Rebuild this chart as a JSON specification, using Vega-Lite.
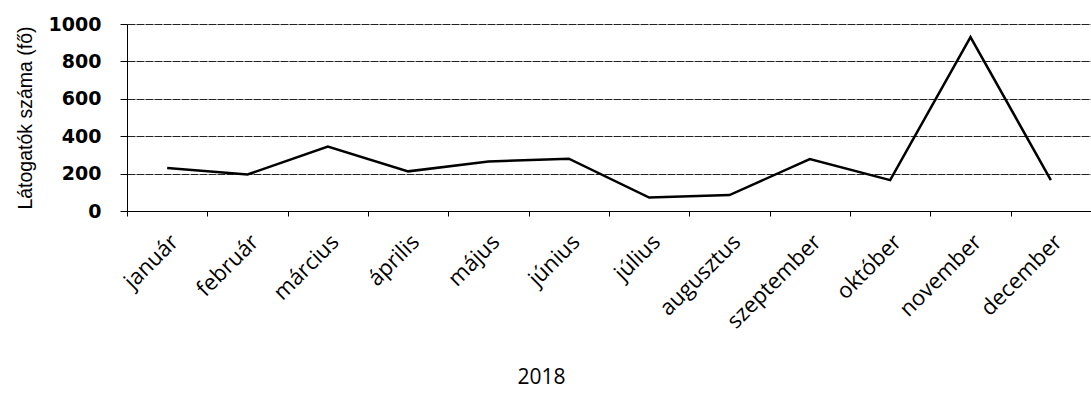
{
  "$schema": "https://vega.github.io/schema/vega-lite/v6.json",
  "autosize": {"type": "none"},
  "padding": {"left": 127, "top": 24, "right": 0, "bottom": 189},
  "width": 964,
  "height": 187,
  "background": "white",
  "data": {"values": [
    {"honap": "január", "fo": 230},
    {"honap": "február", "fo": 195},
    {"honap": "március", "fo": 345},
    {"honap": "április", "fo": 212},
    {"honap": "május", "fo": 265},
    {"honap": "június", "fo": 280},
    {"honap": "július", "fo": 72},
    {"honap": "augusztus", "fo": 85},
    {"honap": "szeptember", "fo": 278},
    {"honap": "október", "fo": 165},
    {"honap": "november", "fo": 930},
    {"honap": "december", "fo": 165}
  ]},
  "config": {"view": {"stroke": null}},
  "mark": {"type": "line", "color": "black", "strokeWidth": 2.5},
  "encoding": {
    "x": {
      "field": "honap", "type": "nominal", "sort": null,
      "scale": {"type": "band", "paddingInner": 0, "paddingOuter": 0},
      "axis": {
        "title": "2018", "titleX": 414, "titleY": 172, "titleBaseline": "alphabetic", "titleAnchor": null,
        "titleFont": "Open Sans", "titleFontSize": 21, "titleFontWeight": "normal", "titleColor": "black",
        "labelAngle": -45, "labelAlign": "right", "labelBaseline": "middle", "labelOffset": 7, "labelPadding": 22,
        "labelFont": "Open Sans", "labelFontSize": 22, "labelColor": "black",
        "tickBand": "extent", "tickColor": "black", "tickSize": 5,
        "domainColor": "black", "grid": false
      }
    },
    "y": {
      "field": "fo", "type": "quantitative",
      "scale": {"domain": [0, 1000]},
      "axis": {
        "title": "Látogatók száma (fő)", "values": [0, 200, 400, 600, 800, 1000], "format": "d",
        "titleFont": "Liberation Sans", "titleFontSize": 19.5, "titleFontWeight": "normal", "titleColor": "black", "titlePadding": 13,
        "labelFont": "DejaVu Sans", "labelFontSize": 19, "labelFontWeight": "bold", "labelColor": "black", "labelPadding": 19,
        "tickColor": "black", "tickSize": 7, "domainColor": "black",
        "grid": true, "gridColor": "#222222", "gridWidth": 1, "gridDash": [8, 1]
      }
    }
  }
}
